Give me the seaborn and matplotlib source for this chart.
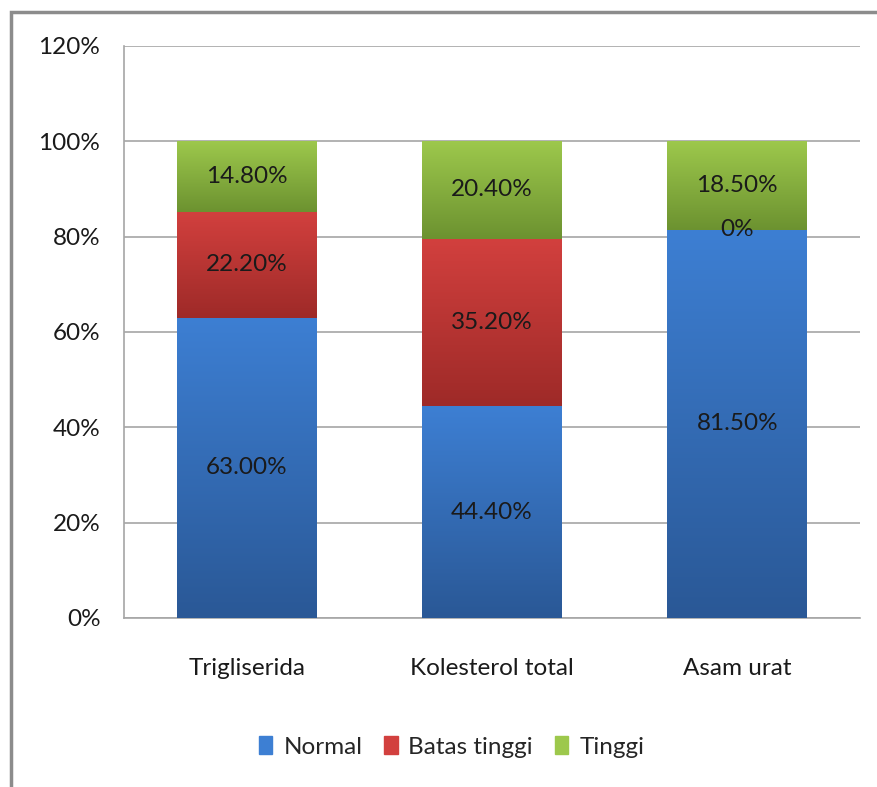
import numpy as np
import pandas as pd
import matplotlib
matplotlib.use("Agg")
import matplotlib.pyplot as plt
import seaborn as sns
from matplotlib.patches import Rectangle
from matplotlib.colors import LinearSegmentedColormap
from matplotlib.ticker import FuncFormatter

categories = ["Trigliserida", "Kolesterol total", "Asam urat"]
series_names = ["Normal", "Batas tinggi", "Tinggi"]
normal = [63.0, 44.4, 81.5]
batas_tinggi = [22.2, 35.2, 0.0]
tinggi = [14.8, 20.4, 18.5]
label_text = [["63.00%", "44.40%", "81.50%"],
              ["22.20%", "35.20%", "0%"],
              ["14.80%", "20.40%", "18.50%"]]
y_ticks = [0, 20, 40, 60, 80, 100, 120]

# gradient colors (top, bottom)
grad = [("#3d7fd3", "#2a5896"), ("#d2403e", "#9e2a28"), ("#9dc84c", "#6c9230")]

sns.set_theme(style="white")
plt.rcParams['font.family'] = ['Lato', 'DejaVu Sans']
FS = 17.5

fig = plt.figure(figsize=(8.77, 7.87), dpi=100)
ax = fig.add_axes([124/877, 1-618/787, (860-124)/877, (618-46)/787])

series = [normal, batas_tinggi, tinggi]
bottoms = np.zeros(3)
for i, vals in enumerate(series):
    df = pd.DataFrame({"cat": categories, "val": vals})
    n_before = len(ax.patches)
    sns.barplot(data=df, x="cat", y="val", bottom=bottoms, color=grad[i][0],
                width=0.57, ax=ax, saturation=1, linewidth=0, zorder=3)
    new = ax.patches[n_before:]
    cmap = LinearSegmentedColormap.from_list("g%d" % i, [grad[i][1], grad[i][0]])
    for j, p in enumerate(new):
        x0, y0 = p.get_x(), p.get_y()
        w, h = p.get_width(), p.get_height()
        if h > 0:
            g = np.linspace(0, 1, 256).reshape(-1, 1)
            im = ax.imshow(g, cmap=cmap, aspect="auto", origin="lower",
                           extent=[x0, x0 + w, y0, y0 + h], zorder=4)
            im.set_clip_path(p)
        ax.text(x0 + w / 2, y0 + h / 2, label_text[i][j],
                ha="center", va="center", fontsize=FS, color="#1a1a1a", zorder=6)
    bottoms = bottoms + np.array(vals)

ax.set_xlim(-0.5, 2.5)
ax.set_ylim(0, 120)
ax.set_yticks(y_ticks)
ax.yaxis.set_major_formatter(FuncFormatter(lambda v, p: f"{int(v)}%"))
ax.yaxis.grid(True, color="#a6a6a6", linewidth=1.2, zorder=0)
ax.set_axisbelow(True)
ax.set_xlabel("")
ax.set_ylabel("")
for s in ["top", "right"]:
    ax.spines[s].set_visible(False)
for s in ["left", "bottom"]:
    ax.spines[s].set_color("#a6a6a6")
    ax.spines[s].set_linewidth(1.2)
ax.tick_params(axis="y", length=0, pad=17, labelsize=FS, labelcolor="#1a1a1a")
ax.tick_params(axis="x", length=0, pad=29, labelsize=FS, labelcolor="#1a1a1a")

handles = [Rectangle((0, 0), 1, 1, color=grad[i][0]) for i in range(3)]
fig.legend(handles, series_names, loc="center", bbox_to_anchor=(0.515, 1 - 747/787),
           ncol=3, frameon=False, fontsize=FS, handlelength=0.55, handleheight=0.7,
           handletextpad=0.45, columnspacing=0.9)

fig.add_artist(Rectangle((11/877, -0.1), 1.2, 1 - 12/787 + 0.1, transform=fig.transFigure,
                         fill=False, edgecolor="#8c8c8c", linewidth=2.5))

fig.savefig("out.png", dpi=100)
